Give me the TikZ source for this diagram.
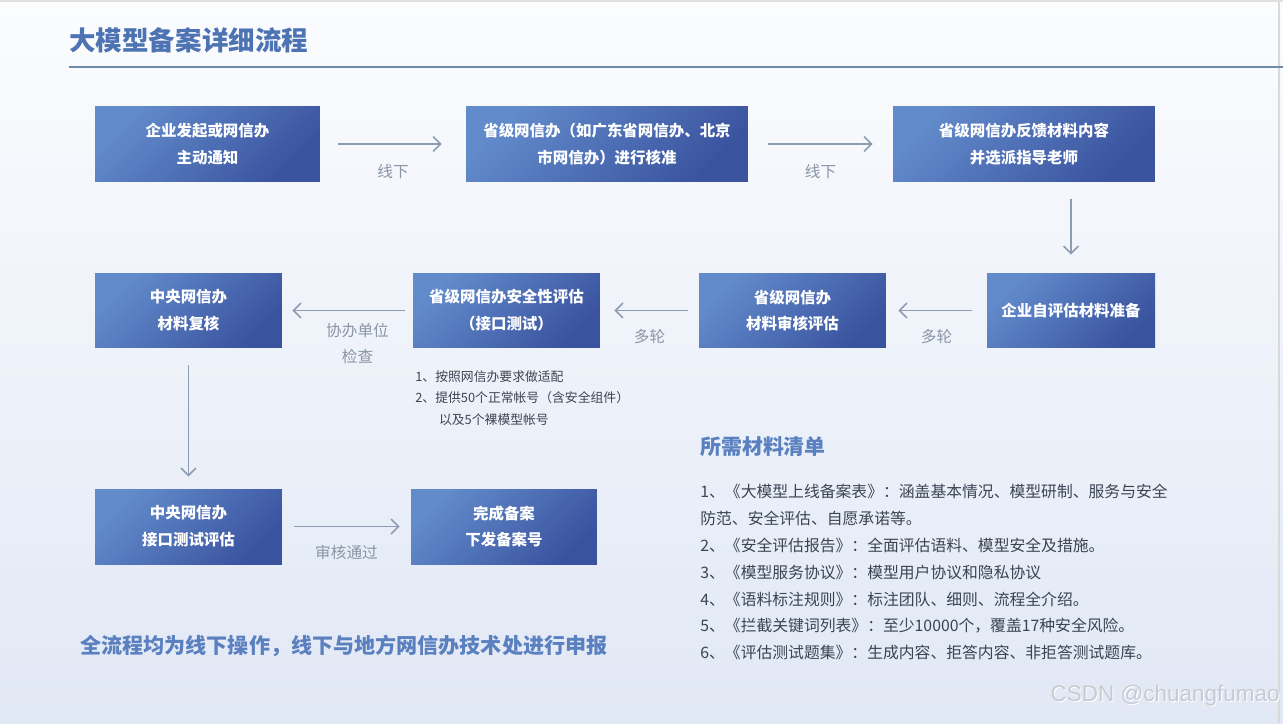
\documentclass[tikz,border=0pt]{standalone}
\usepackage{fontspec}
\setmainfont{Noto Sans CJK SC}
\newfontfamily\markfont{Liberation Sans}
\usetikzlibrary{arrows.meta,positioning}
\definecolor{boxlight}{HTML}{628BCB}
\definecolor{boxdark}{HTML}{3A539F}
\definecolor{titleblue}{HTML}{4D73B3}
\definecolor{headblue}{HTML}{5A80C0}
\definecolor{linegray}{HTML}{8E9CB2}
\definecolor{labelgray}{HTML}{8A95A6}
\definecolor{notetext}{HTML}{3B4453}
\definecolor{rulegray}{HTML}{6F89AA}
\definecolor{bgtop}{HTML}{FBFCFE}
\definecolor{bgbottom}{HTML}{E1E8F5}
\definecolor{markgray}{HTML}{C5CAD3}
\tikzset{
  flowbox/.style={shade, top color=boxlight, bottom color=boxdark, shading angle=45, text=white,
    font=\bfseries\fontsize{8.8}{15.3}\selectfont, align=center, minimum height=1.49cm, inner sep=2pt},
  flowline/.style={draw=linegray, line width=0.9pt, -{Straight Barb[length=1.5mm,width=3mm]}},
  flowlabel/.style={text=labelgray, font=\fontsize{8.9}{14.7}\selectfont, align=center, inner sep=0pt},
  notetxt/.style={text=notetext, align=left, inner sep=0pt}
}
\begin{document}
\begin{tikzpicture}[x=0.02cm, y=-0.02cm]
  \shade[top color=bgtop, bottom color=bgbottom] (0,0) rectangle (1283,723);
  \useasboundingbox (0,0) rectangle (1283,723);
  \fill[black!12] (0,0) rectangle (1283,2);
  \draw[black!15, line width=0.8pt] (1279,2) -- (1279,723);

  \node[anchor=west, inner sep=0pt, text=titleblue, font=\bfseries\fontsize{15.1}{18}\selectfont] (title) at (69,40) {大模型备案详细流程};
  \draw[rulegray, line width=0.7pt] (69,67) -- (1283,67);

  \node[flowbox, minimum width=4.5cm] (b1) at (207.5,144) {企业发起或网信办\\主动通知};
  \node[flowbox, minimum width=5.64cm] (b2) at (607,144) {省级网信办（如广东省网信办、北京\\市网信办）进行核准};
  \node[flowbox, minimum width=5.24cm] (b3) at (1024,144) {省级网信办反馈材料内容\\并选派指导老师};
  \node[flowbox, minimum width=3.36cm, minimum height=1.5cm] (b4) at (1071,310.5) {企业自评估材料准备};
  \node[flowbox, minimum width=3.74cm, minimum height=1.5cm] (b5) at (792.5,310.5) {省级网信办\\材料审核评估};
  \node[flowbox, minimum width=3.74cm, minimum height=1.5cm] (b6) at (506.5,310.5) {省级网信办安全性评估\\（接口测试）};
  \node[flowbox, minimum width=3.74cm, minimum height=1.5cm] (b7) at (188.5,310.5) {中央网信办\\材料复核};
  \node[flowbox, minimum width=3.74cm, minimum height=1.5cm] (b8) at (188.5,526.5) {中央网信办\\接口测试评估};
  \node[flowbox, minimum width=3.72cm, minimum height=1.5cm] (b9) at (504,526.5) {完成备案\\下发备案号};

  \draw[flowline, shorten <=0.36cm, shorten >=0.48cm] (b1) -- node[flowlabel, below=11pt] {线下} (b2);
  \draw[flowline, shorten <=0.4cm, shorten >=0.4cm] (b2) -- node[flowlabel, below=11pt] {线下} (b3);
  \draw[flowline, shorten <=0.34cm, shorten >=0.36cm] (b3.south -| b4.north) -- (b4.north);
  \draw[flowline, shorten <=0.3cm, shorten >=0.24cm] (b4) -- node[flowlabel, below=10pt] {多轮} (b5);
  \draw[flowline, shorten <=0.22cm, shorten >=0.28cm] (b5) -- node[flowlabel, below=10pt] {多轮} (b6);
  \draw[flowline, shorten <=0.16cm, shorten >=0.2cm] (b6) -- node[flowlabel, below=7pt, xshift=0.2cm] {协办单位\\检查} (b7);
  \draw[flowline, shorten <=0.34cm, shorten >=0.24cm] (b7.south) -- (b8.north);
  \draw[flowline, shorten <=0.24cm, shorten >=0.22cm] (b8) -- node[flowlabel, below=10pt] {审核通过} (b9);

  \node[notetxt, anchor=north west, font=\fontsize{7.3}{12.2}\selectfont] (note) at (415,370)
    {1、按照网信办要求做适配\\2、提供50个正常帐号（含安全组件）\\\hspace*{1.85em}以及5个裸模型帐号};

  \node[anchor=west, inner sep=0pt, text=headblue, font=\bfseries\fontsize{11.9}{14}\selectfont] (mattitle) at (700,447) {所需材料清单};
  \node[notetxt, font=\fontsize{9}{15.3}\selectfont, below=15pt of mattitle.south west, anchor=north west] (matlist)
    {1、《大模型上线备案表》：涵盖基本情况、模型研制、服务与安全\\
     防范、安全评估、自愿承诺等。\\
     2、《安全评估报告》：全面评估语料、模型安全及措施。\\
     3、《模型服务协议》：模型用户协议和隐私协议\\
     4、《语料标注规则》：标注团队、细则、流程全介绍。\\
     5、《拦截关键词列表》：至少10000个，覆盖17种安全风险。\\
     6、《评估测试题集》：生成内容、拒答内容、非拒答测试题库。};

  \node[anchor=west, inner sep=0pt, text=headblue, font=\bfseries\fontsize{12}{14}\selectfont] (summary) at (80,646) {全流程均为线下操作，线下与地方网信办技术处进行申报};

  \node[anchor=east, inner sep=0pt, text=white, font=\markfont\fontsize{12.8}{14}\selectfont] at (1281,697) {CSDN @chuangfumao};
  \node[anchor=east, inner sep=0pt, text=markgray, font=\markfont\fontsize{12.8}{14}\selectfont] (mark) at (1280,696) {CSDN @chuangfumao};
\end{tikzpicture}
\end{document}
